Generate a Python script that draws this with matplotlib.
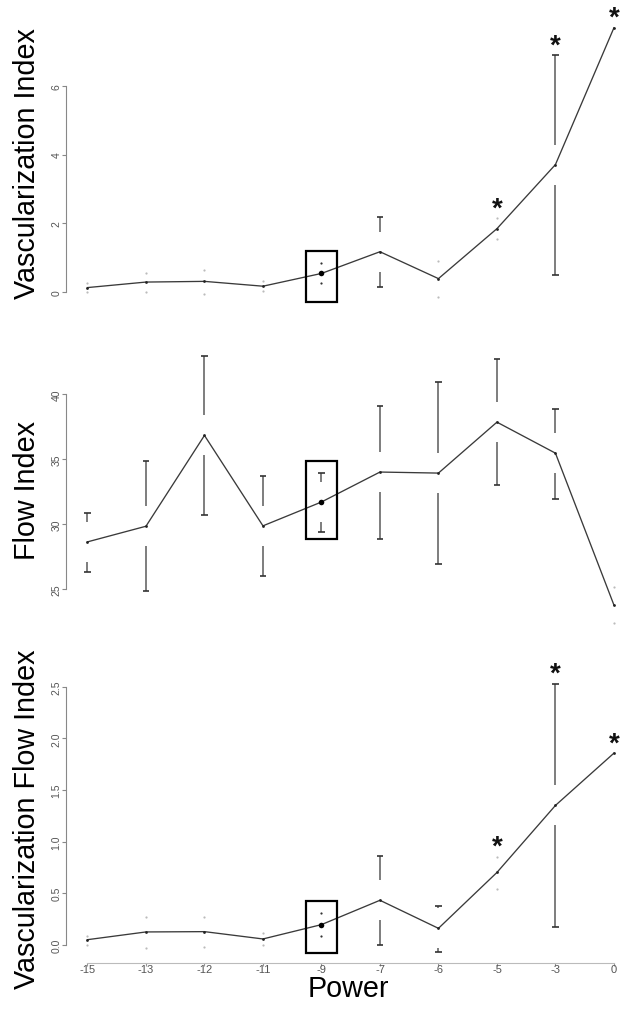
import matplotlib
matplotlib.use('Agg')
import matplotlib.pyplot as plt
from matplotlib.patches import Rectangle

plt.rcParams['font.family'] = ['Liberation Sans', 'DejaVu Sans']

# power settings, equally spaced along x
powers = [-15, -13, -12, -11, -9, -7, -6, -5, -3, 0]
power_labels = [str(p) for p in powers]

# vascularization index: mean and CI limits
vi_mean = [0.14, 0.30, 0.32, 0.18, 0.55, 1.18, 0.40, 1.85, 3.71, 7.68]
vi_upper = [0.28, 0.57, 0.65, 0.33, 0.84, 2.19, 0.91, 2.15, 6.88, 7.68]
vi_lower = [0.00, 0.00, -0.04, 0.04, 0.26, 0.17, -0.14, 1.54, 0.51, 7.68]

# flow index
fi_mean = [28.65, 29.85, 36.82, 29.88, 31.71, 34.01, 33.93, 37.84, 35.46, 23.8]
fi_upper = [30.9, 34.83, 42.94, 33.68, 33.96, 39.11, 40.9, 42.69, 38.86, 25.2]
fi_lower = [26.36, 24.9, 30.69, 26.05, 29.42, 28.85, 26.97, 32.99, 31.97, 22.4]

# vascularization flow index
vfi_mean = [0.048, 0.123, 0.126, 0.055, 0.194, 0.43, 0.158, 0.70, 1.35, 1.857]
vfi_upper = [0.087, 0.27, 0.27, 0.11, 0.307, 0.856, 0.37, 0.85, 2.53, 1.857]
vfi_lower = [0.0, -0.03, -0.02, 0.0, 0.08, 0.0, -0.074, 0.54, 0.168, 1.857]

vi_ticks = [0, 2, 4, 6]
fi_ticks = [25, 30, 35, 40]
vfi_ticks = [0.0, 0.5, 1.0, 1.5, 2.0, 2.5]

significant = [7, 8, 9]   # indices marked with *
highlight = 4             # the boxed setting (-9)

W, H, DPI = 620, 1012, 100
LEFT_PX, RIGHT_PX = 66.4, 635.0
GAP_PX = 20      # gap left around each point (like gplots plotCI)
CAP_PX = 3.2
LABEL_SIZE = 20.7


def r_limits(lo, hi):
    span = hi - lo
    return lo - 0.04 * span, hi + 0.04 * span


def draw_ci(ax, x, mean, upper, lower, height_px):
    y0, y1 = ax.get_ylim()
    x0, x1 = ax.get_xlim()
    gap = GAP_PX * (y1 - y0) / height_px
    cap = CAP_PX * (x1 - x0) / (RIGHT_PX - LEFT_PX)
    for i in range(len(x)):
        for end in (upper[i], lower[i]):
            d = end - mean[i]
            if abs(d) > gap:
                start = mean[i] + gap * (1 if d > 0 else -1)
                ax.plot([x[i], x[i]], [start, end], color='#5a5a5a', lw=1.1,
                        solid_capstyle='butt', zorder=2)
                ax.plot([x[i] - cap, x[i] + cap], [end, end], color='#333333',
                        lw=1.2, solid_capstyle='butt', zorder=2)
            elif abs(d) > 1e-9:
                col = '#333333' if i == highlight else '#bbbbbb'
                ax.plot(x[i], end, 'o', ms=1.6, mec='none', color=col, zorder=2)


def make_panel(fig, top_px, bottom_px, mean, upper, lower, ticks, tick_fmt,
               ylabel, stars, box_lo, box_hi, bottom_axis=False):
    height = bottom_px - top_px
    ax = fig.add_axes([LEFT_PX / W, 1 - bottom_px / H,
                       (RIGHT_PX - LEFT_PX) / W, height / H])
    x = list(range(len(powers)))
    ax.set_xlim(*r_limits(0, len(powers) - 1))
    ax.set_ylim(*r_limits(min(lower), max(upper + mean)))

    ax.plot(x, mean, color='#3a3a3a', lw=0.95, zorder=3)
    ax.plot(x, mean, 'o', ms=2.0, mec='none', color='#222222', zorder=4)
    ax.plot(x[highlight], mean[highlight], 'o', ms=4.0, mec='none',
            color='black', zorder=5)
    draw_ci(ax, x, mean, upper, lower, height)

    for i in stars:
        ax.annotate('*', (x[i], max(mean[i], upper[i])), xytext=(0, 3),
                    textcoords='offset pixels', ha='center', va='baseline',
                    fontsize=20, fontweight='bold', color='#111111',
                    annotation_clip=False)

    ax.add_patch(Rectangle((highlight - 0.27, box_lo), 0.54, box_hi - box_lo,
                           fill=False, ec='black', lw=1.6, zorder=6))

    for s in ['top', 'right']:
        ax.spines[s].set_visible(False)
    ax.spines['left'].set_bounds(ticks[0], ticks[-1])
    ax.spines['left'].set_color('#888888')
    ax.set_yticks(ticks)
    ax.set_yticklabels([tick_fmt.format(t) for t in ticks], rotation=90,
                       va='center', fontsize=7.5, color='#555555')
    ax.tick_params(axis='y', length=3, width=0.8, color='#888888', pad=0.7)

    if bottom_axis:
        ax.spines['bottom'].set_bounds(0, len(powers) - 1)
        ax.spines['bottom'].set_color('#bbbbbb')
        ax.set_xticks(x)
        ax.set_xticklabels(power_labels, fontsize=8, color='#555555')
        ax.tick_params(axis='x', length=2.5, width=0.8, color='#999999', pad=-1.5)
    else:
        ax.spines['bottom'].set_visible(False)
        ax.set_xticks([])

    ax.patch.set_alpha(0)
    center = 1 - (top_px + bottom_px) / 2 / H
    fig.text(35 / W, center, ylabel, rotation=90, rotation_mode='anchor',
             ha='center', va='baseline', fontsize=LABEL_SIZE)
    return ax


fig = plt.figure(figsize=(W / DPI, H / DPI), dpi=DPI)

make_panel(fig, 18, 309, vi_mean, vi_upper, vi_lower, vi_ticks, '{:g}',
           'Vascularization Index', significant, -0.29, 1.19)
make_panel(fig, 346, 635, fi_mean, fi_upper, fi_lower, fi_ticks, '{:g}',
           'Flow Index', [], 28.9, 34.88)
make_panel(fig, 674, 964, vfi_mean, vfi_upper, vfi_lower, vfi_ticks, '{:.1f}',
           'Vascularization Flow Index', significant, -0.078, 0.426,
           bottom_axis=True)

fig.text(348 / W, 1 - 997 / H, 'Power', ha='center', va='baseline',
         fontsize=LABEL_SIZE)

fig.savefig('out.png', dpi=DPI)
